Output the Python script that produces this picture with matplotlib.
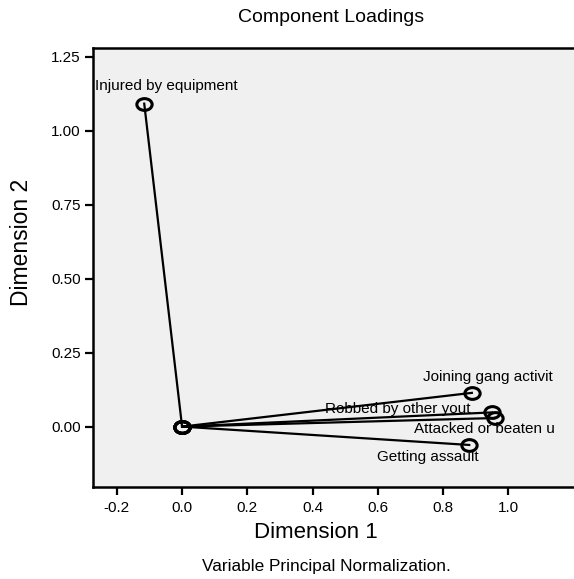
import numpy as np
import matplotlib
matplotlib.use("Agg")
import matplotlib.pyplot as plt
from matplotlib.path import Path
from matplotlib.transforms import Affine2D

# ---- data ----
variables = ["Injured by equipment", "Joining gang activit", "Robbed by other yout",
             "Attacked or beaten u", "Getting assault"]
dim1 = [-0.116, 0.888, 0.950, 0.959, 0.880]
dim2 = [1.091, 0.114, 0.048, 0.029, -0.062]
xticks = [-0.2, 0.0, 0.2, 0.4, 0.6, 0.8, 1.0]
yticks = [0.00, 0.25, 0.50, 0.75, 1.00, 1.25]

# ---- layout / style ----
label_offsets = {  # pixel offsets of label centers from points
    "Injured by equipment": (22, 18),
    "Joining gang activit": (16, 16),
    "Robbed by other yout": (-94, 3),
    "Attacked or beaten u": (-11, -11),
    "Getting assault": (-41, -12),
}
FONT = "Liberation Sans"
plt.rcParams["font.family"] = [FONT, "DejaVu Sans"]

fig = plt.figure(figsize=(5.74, 5.79), dpi=100)
W, H = 574, 579
ax = fig.add_axes([93 / W, 1 - 487 / H, (574 - 93) / W, (487 - 48) / H])
ax.set_facecolor("#f0f0f0")
ax.set_xlim(-0.273, 1.201)
ax.set_ylim(-0.204, 1.279)

ellipse = Path.unit_circle().transformed(Affine2D().scale(1.3, 1.0))

for x, y in zip(dim1, dim2):
    ax.plot([0, x], [0, y], color="black", lw=1.6, zorder=2)
    ax.plot([x], [y], marker=ellipse, ms=11, mfc="none", mec="black", mew=2.2,
            zorder=3, clip_on=False)
    ax.plot([0], [0], marker=ellipse, ms=11, mfc="none", mec="black", mew=2.2,
            zorder=3)

for name, x, y in zip(variables, dim1, dim2):
    dx, dy = label_offsets[name]
    ax.annotate(name, (x, y), xytext=(dx, dy), textcoords="offset pixels",
                ha="center", va="center", fontsize=11, color="black", zorder=4)

ax.set_xticks(xticks)
ax.set_xticklabels([f"{t:.1f}" for t in xticks])
ax.set_yticks(yticks)
ax.set_yticklabels([f"{t:.2f}" for t in yticks])
ax.tick_params(direction="out", length=6, width=1.6, labelsize=11, pad=3,
               colors="black")
ax.tick_params(axis="x", pad=4)
for s in ["left", "bottom", "top"]:
    ax.spines[s].set_linewidth(1.8)
    ax.spines[s].set_color("black")
ax.spines["right"].set_visible(False)

fig.text(331 / W, 1 - 17 / H, "Component Loadings", ha="center", va="center",
         fontsize=14)
fig.text(316 / W, 1 - 538 / H, "Dimension 1", ha="center", va="baseline",
         fontsize=16)
fig.text(22 / W, 1 - 242 / H, "Dimension 2", ha="center", va="center",
         fontsize=16.5, rotation=90)
fig.text(326 / W, 1 - 566 / H, "Variable Principal Normalization.", ha="center",
         va="center", fontsize=12.4)

fig.savefig("out.png", dpi=100, facecolor="white")
